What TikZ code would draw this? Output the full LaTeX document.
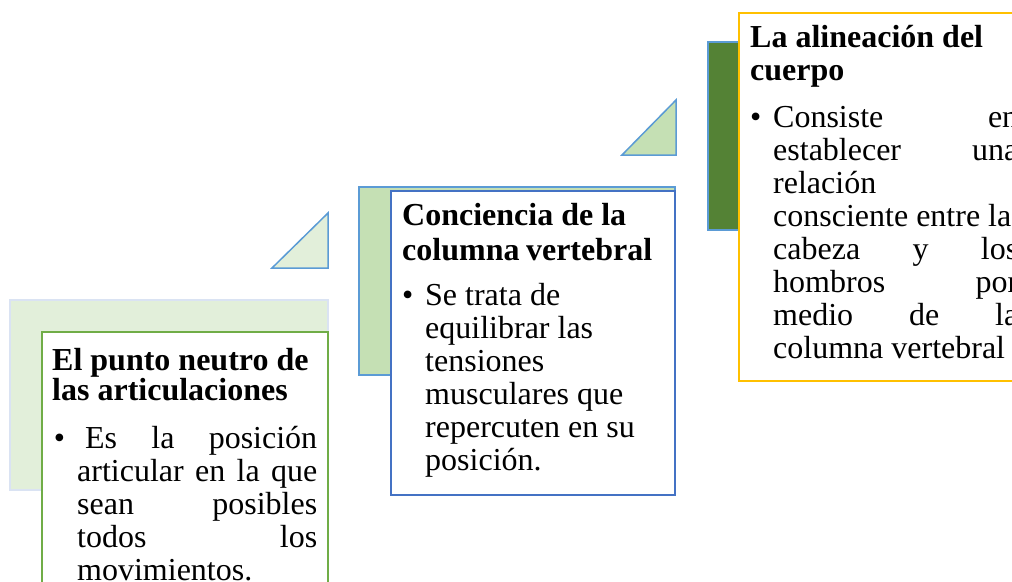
\documentclass[tikz,border=0pt]{standalone}
\usepackage{fontspec}
\setmainfont{Liberation Serif}
\definecolor{verdeclaro}{HTML}{E2EFDA}
\definecolor{verdemedio}{HTML}{C5E0B4}
\definecolor{verdeoscuro}{HTML}{548235}
\definecolor{azulborde}{HTML}{5B9BD5}
\definecolor{azulcaja}{HTML}{4472C4}
\definecolor{verdecaja}{HTML}{70AD47}
\definecolor{oro}{HTML}{FFC000}
\definecolor{azulpalido}{HTML}{DAE3F3}
\def\interlinea{33}
\def\sangria{12pt}
\tikzset{
  fondo/.style={draw=#1, line width=1.5pt},
  caja/.style={draw=#1, fill=white, line width=1.5pt},
  titulo/.style={anchor=base west, inner sep=0pt, text width=280pt, align=flush left,
    font=\fontsize{32}{#1}\selectfont\bfseries},
  cuerpo/.style={anchor=base west, inner sep=0pt, text width=#1, align=flush left,
    font=\fontsize{32}{\interlinea}\selectfont},
}
\newcommand{\vineta}{\llap{\textbullet\hspace{\sangria}}}

\begin{document}
\begin{tikzpicture}[x=1pt, y=-1pt]
  \useasboundingbox (0,0) rectangle (1012,581);
  \clip (0,0) rectangle (1012,581);

  % paso 1
  \draw[fondo=azulpalido, fill=verdeclaro] (10,300) rectangle (328,490);
  \draw[fondo=azulborde, fill=verdeclaro] (272,268) -- (328,268) -- (328,213) -- cycle;
  \draw[caja=verdecaja] (42,332) rectangle (328,600);
  \node[titulo=30] (tit1) at (52,370) {El punto neutro de\\las articulaciones};
  \node[cuerpo=240pt] (txt1) at (77,448)
    {\vineta\hspace{8pt}Es\hfill la\hfill posición\\
     articular\hfill en\hfill la\hfill que\\
     sean\hfill posibles\\
     todos\hfill los\\
     movimientos.};

  % paso 2
  \draw[fondo=azulborde, fill=verdemedio] (359,187) rectangle (675,375);
  \draw[fondo=azulborde, fill=verdemedio] (622,155) -- (676,155) -- (676,100) -- cycle;
  \draw[caja=azulcaja] (391,191) rectangle (675,495);
  \node[titulo=35] (tit2) at (402,225) {Conciencia de la\\\hbox to 250pt{columna\hfill vertebral}};
  \node[cuerpo=245pt] (txt2) at (425,305)
    {\vineta Se trata de\\
     equilibrar las\\
     tensiones\\
     musculares que\\
     repercuten en su\\
     posición.};

  % paso 3
  \draw[fondo=azulborde, fill=verdeoscuro] (708,42) rectangle (740,230);
  \draw[caja=oro] (739,13) rectangle (1040,381);
  \node[titulo=33] (tit3) at (750,47) {La alineación del\\cuerpo};
  \node[cuerpo=245pt] (txt3) at (773,127)
    {\vineta Consiste\hfill en\\
     establecer\hfill una\\
     relación\\
     consciente entre la\\
     cabeza\hfill y\hfill los\\
     hombros\hfill por\\
     medio\hfill de\hfill la\\
     columna vertebral};
\end{tikzpicture}
\end{document}
